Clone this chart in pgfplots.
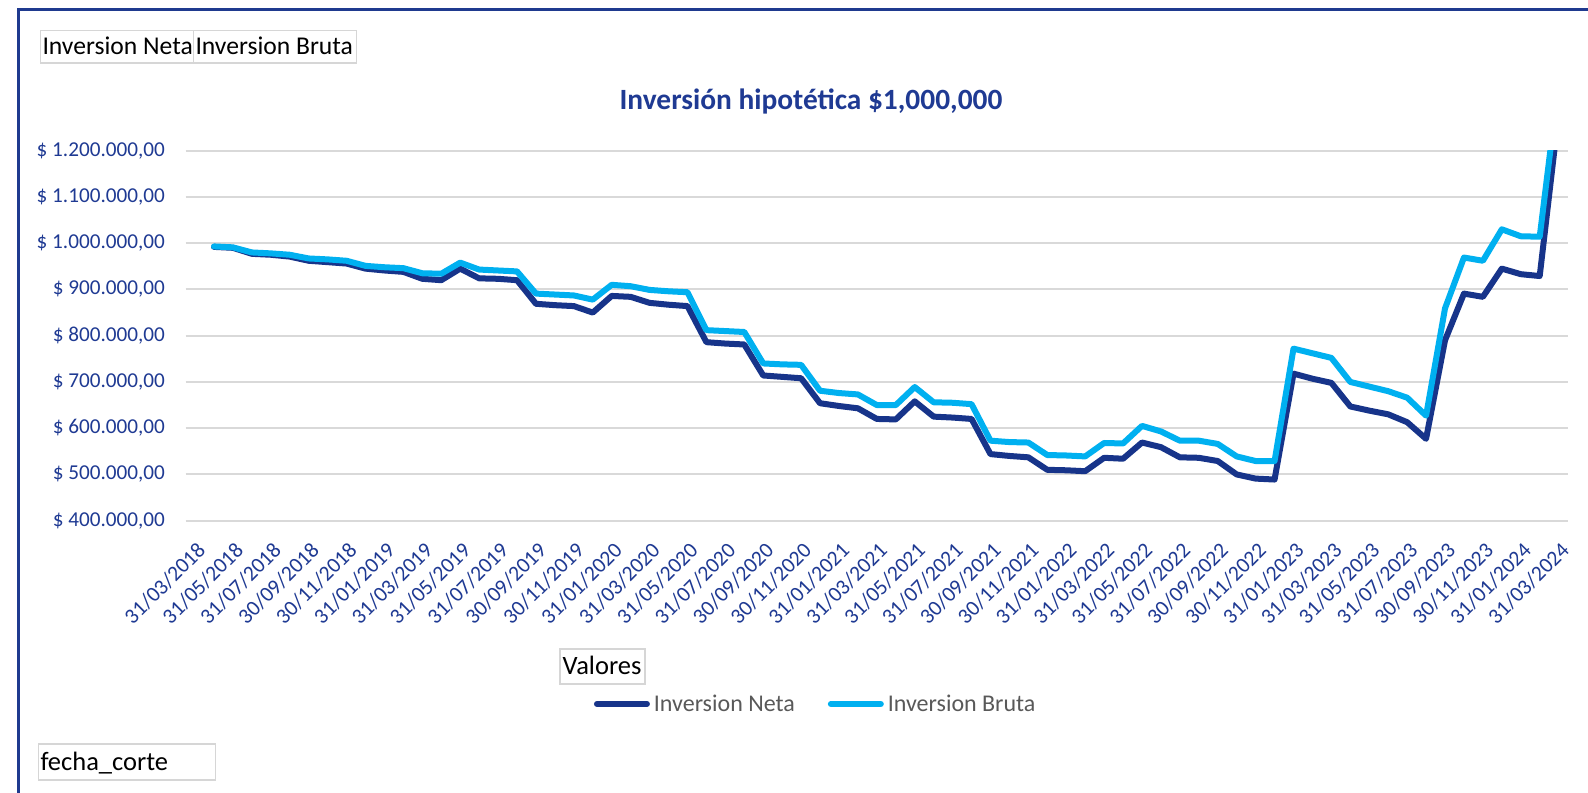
\documentclass[border=0pt]{standalone}
\usepackage{fontspec}
\setmainfont{Carlito}
\usepackage{pgfplots}
\pgfplotsset{compat=1.18}
\usepackage{pgfplotstable}

\definecolor{navyline}{HTML}{17348A}
\definecolor{lightline}{HTML}{00B0F0}
\definecolor{axtext}{HTML}{1F3A93}
\definecolor{framec}{HTML}{1F3A8F}
\definecolor{gridc}{HTML}{D9D9D9}
\definecolor{boxc}{HTML}{D6D6D6}
\definecolor{legtext}{HTML}{595959}

\pgfplotstableread{
i neta bruta
1 992000 993000
2 990000 991000
3 977000 980000
4 975000 978000
5 971000 975000
6 962000 967000
7 959000 965000
8 956000 962000
9 945000 951000
10 941000 948000
11 938000 946000
12 923000 935000
13 920000 934000
14 945000 958000
15 924000 943000
16 923000 941000
17 920000 939000
18 869000 891000
19 866000 889000
20 864000 887000
21 850000 878000
22 886000 910000
23 884000 907000
24 871000 899000
25 867000 896000
26 864000 894000
27 786000 812000
28 783000 810000
29 781000 808000
30 714000 740000
31 711000 738000
32 708000 737000
33 654000 681000
34 648000 676000
35 643000 673000
36 620000 650000
37 619000 650000
38 658000 689000
39 625000 656000
40 623000 655000
41 620000 652000
42 544000 573000
43 540000 570000
44 537000 569000
45 510000 542000
46 509000 541000
47 507000 539000
48 536000 568000
49 534000 567000
50 569000 605000
51 559000 593000
52 537000 573000
53 536000 573000
54 529000 566000
55 500000 539000
56 491000 529000
57 489000 529000
58 718000 772000
59 707000 762000
60 698000 752000
61 647000 700000
62 638000 690000
63 630000 680000
64 613000 666000
65 577000 627000
66 790000 859000
67 891000 969000
68 884000 962000
69 945000 1030000
70 933000 1015000
71 929000 1014000
72 1280000 1346000
}\datatable

\begin{document}
\begin{tikzpicture}
\useasboundingbox (0bp,0bp) rectangle (1588bp,793bp);
\fill[white] (0bp,0bp) rectangle (1588bp,793bp);
% chart frame (left and top edges)
\draw[framec, line width=3bp] (18.5bp,0bp) -- (18.5bp,783bp) -- (1588bp,783bp);

% pivot field buttons
\draw[boxc, line width=1.5bp] (40.5bp,762.6bp) rectangle (193.5bp,730.2bp);
\draw[boxc, line width=1.5bp] (193.5bp,762.6bp) rectangle (356.5bp,730.2bp);
\node[anchor=base west, inner sep=0pt, font=\fontsize{25.6bp}{30bp}\selectfont] at (42.3bp,738.1bp) {Inversion Neta};
\node[anchor=base west, inner sep=0pt, font=\fontsize{25.6bp}{30bp}\selectfont] at (195.3bp,738.1bp) {Inversion Bruta};

\draw[boxc, line width=1.5bp] (560bp,144bp) rectangle (645bp,109bp);
\node[anchor=base west, inner sep=0pt, font=\fontsize{26.5bp}{30bp}\selectfont] at (562.5bp,118bp) {Valores};
\draw[boxc, line width=1.5bp] (38.5bp,49bp) rectangle (215.7bp,13bp);
\node[anchor=base west, inner sep=0pt, font=\fontsize{26.5bp}{30bp}\selectfont] at (40.3bp,22.5bp) {fecha\_corte};

% title
\node[font=\fontsize{29.4bp}{34bp}\selectfont\bfseries, text=axtext] at (811bp,692bp) {Inversión hipotética \$1,000,000};

\begin{axis}[
  at={(185.6bp,272.3bp)}, anchor=south west,
  scale only axis, width=1382.6bp, height=370bp,
  xmin=-0.5, xmax=72.5, ymin=400000, ymax=1200000,
  axis line style={draw=none},
  major tick length=0pt,
  scaled y ticks=false,
  ymajorgrids, grid style={gridc, line width=2bp},
  ytick={400000,500000,600000,700000,800000,900000,1000000,1100000,1200000},
  yticklabels={{\$ 400.000,00},{\$ 500.000,00},{\$ 600.000,00},{\$ 700.000,00},{\$ 800.000,00},{\$ 900.000,00},{\$ 1.000.000,00},{\$ 1.100.000,00},{\$ 1.200.000,00}},
  yticklabel style={anchor=east, inner sep=0pt, xshift=-20.5bp, text=axtext, font=\fontsize{21.2bp}{25bp}\selectfont},
  xtick={0,2,...,72},
  xticklabels={31/03/2018,31/05/2018,31/07/2018,30/09/2018,30/11/2018,31/01/2019,31/03/2019,31/05/2019,31/07/2019,30/09/2019,30/11/2019,31/01/2020,31/03/2020,31/05/2020,31/07/2020,30/09/2020,30/11/2020,31/01/2021,31/03/2021,31/05/2021,31/07/2021,30/09/2021,30/11/2021,31/01/2022,31/03/2022,31/05/2022,31/07/2022,30/09/2022,30/11/2022,31/01/2023,31/03/2023,31/05/2023,31/07/2023,30/09/2023,30/11/2023,31/01/2024,31/03/2024},
  xticklabel style={xshift=1bp, yshift=-20bp, rotate=45, anchor=north east, inner sep=0pt, text=axtext, font=\fontsize{21.6bp}{25bp}\selectfont},
  legend columns=2,
  legend image code/.code={\path (0bp,0bp) (56bp,0bp); \draw[#1, line width=6bp, line cap=round] (3bp,0bp) -- (53bp,0bp);},
  legend style={at={(0.2932,-0.4954)}, anchor=west, draw=none, fill=none, inner sep=0pt, outer sep=0pt,
    font=\fontsize{24bp}{28bp}\selectfont, text=legtext,
    nodes={inner sep=0pt},
    /tikz/every odd column/.style={column sep=1bp},
    /tikz/every even column/.style={column sep=30bp}},
]
\addplot[navyline, line width=6bp, line join=round, line cap=round] table[x=i, y=neta] {\datatable};
\addplot[lightline, line width=6bp, line join=round, line cap=round] table[x=i, y=bruta] {\datatable};
\legend{Inversion Neta, Inversion Bruta}
\end{axis}
\end{tikzpicture}
\end{document}
